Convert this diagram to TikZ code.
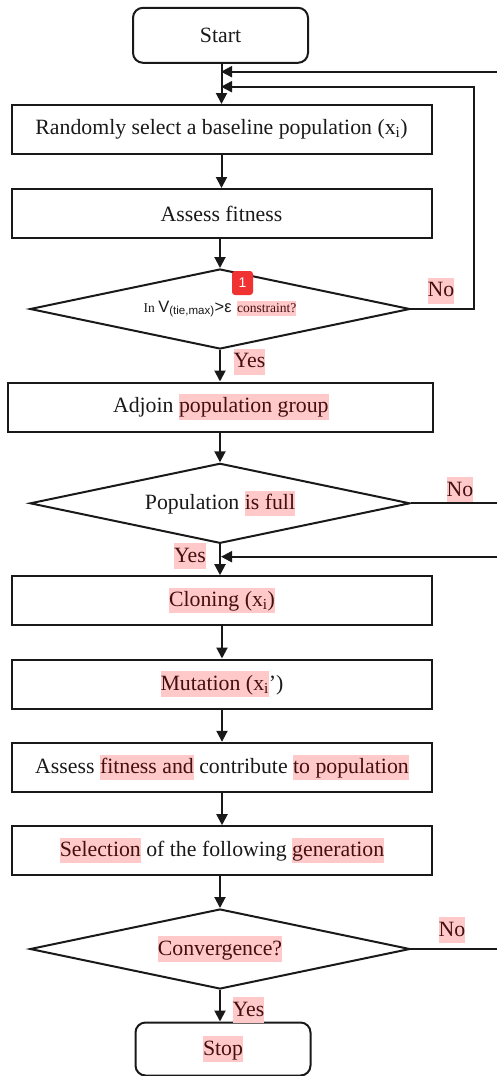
\documentclass[tikz,border=0pt]{standalone}
\usepackage{fontspec}
\setmainfont{Liberation Serif}
\newfontfamily\sansf{Liberation Sans}
\usetikzlibrary{shapes.geometric,arrows.meta}
\definecolor{hlpink}{RGB}{255,201,201}
\definecolor{hltext}{RGB}{70,15,15}
\definecolor{ink}{RGB}{25,25,25}
\definecolor{badgered}{RGB}{240,50,50}
\newcommand\hlx[1]{{\setlength{\fboxsep}{0pt}\colorbox{hlpink}{\rule[-0.3em]{0pt}{1.15em}\color{hltext}#1}}}
\begin{document}
\begin{tikzpicture}[x=1pt,y=-1pt,
  big/.style={font=\fontsize{21.8}{24}\selectfont, text=ink},
  proc/.style={big, draw=ink, line width=2pt, minimum width=420pt, minimum height=49pt, inner sep=0pt},
  term/.style={proc, rounded corners=10pt, minimum width=175pt, minimum height=55pt},
  dec/.style={big, diamond, draw=ink, line width=2pt, aspect=4.75, minimum width=380pt, minimum height=80pt, inner sep=0pt},
  lbl/.style={big, inner sep=0pt},
  ln/.style={draw=ink, line width=2pt},
  arr/.style={ln, -{Triangle[length=11pt,width=11pt]}}
]
\useasboundingbox (0,0) rectangle (497,1076);

\node[term] (start) at (220.5,35.3) {Start};
\node[proc] (b1) at (221.5,129.5) {Randomly select a baseline population (x\textsubscript{i})};
\node[proc] (b2) at (221.5,213.5) {Assess fitness};
\node[dec] (d1) at (220,309) {{\fontsize{13.5}{15}\selectfont In }{\sansf\fontsize{16.5}{18}\selectfont V\textsubscript{(tie,max)}>ε} {\fontsize{13.5}{15}\selectfont\hlx{constraint?}}};
\node[proc, minimum width=425pt] (b3) at (220.8,407) {Adjoin \hlx{population group}};
\node[dec] (d2) at (220,503.3) {Population \hlx{is full}};
\node[proc] (b4) at (222,600.7) {\hlx{Cloning (x\textsubscript{i})}};
\node[proc] (b5) at (222,684) {\hlx{Mutation (x\textsubscript{i}}’)};
\node[proc] (b6) at (222,767.3) {Assess \hlx{fitness and} contribute \hlx{to population}};
\node[proc] (b7) at (222,850.7) {\hlx{Selection} of the following \hlx{generation}};
\node[dec] (d3) at (220,949) {\hlx{Convergence?}};
\node[term, minimum height=53pt] (stop) at (223,1049) {\hlx{Stop}};

\node[lbl] (no1) at (441,291) {\hlx{No}};
\node[lbl] (yes1) at (249.5,362) {\hlx{Yes}};
\node[lbl] (no2) at (460,490) {\hlx{No}};
\node[lbl] (yes2) at (190,556) {\hlx{Yes}};
\node[lbl] (no3) at (452,930) {\hlx{No}};
\node[lbl] (yes3) at (248.5,1010) {\hlx{Yes}};
\node[fill=badgered, rounded corners=3pt, minimum width=21pt, minimum height=24pt, inner sep=0pt, text=white, font=\sansf\fontsize{14}{16}\selectfont] (badge) at (242.5,283) {1};

\coordinate (j1) at (221,71.7);
\coordinate (j2) at (221,86.7);
\coordinate (j3) at (221,556.7);
\coordinate (e1) at (497,71.7);
\coordinate (e3) at (497,556.7);
\coordinate (r1) at (474,309);

\draw[arr] (start.south -| b1.north) -- (b1.north);
\draw[arr] (e1) -- (j1);
\draw[arr] (d1.east) -- (r1) |- (j2);
\draw[arr] (b1) -- (b2);
\draw[arr] (b2.south -| d1.north) -- (d1.north);
\draw[arr] (d1.south) -- (d1.south |- b3.north);
\draw[arr] (b3.south -| d2.north) -- (d2.north);
\draw[ln] (d2.east) -- (d2.east -| e1);
\draw[arr] (d2.south) -- (d2.south |- b4.north);
\draw[arr] (e3) -- (j3);
\draw[arr] (b4) -- (b5);
\draw[arr] (b5) -- (b6);
\draw[arr] (b6) -- (b7);
\draw[arr] (b7.south -| d3.north) -- (d3.north);
\draw[ln] (d3.east) -- (d3.east -| e1);
\draw[arr] (d3.south) -- (d3.south |- stop.north);
\end{tikzpicture}
\end{document}
